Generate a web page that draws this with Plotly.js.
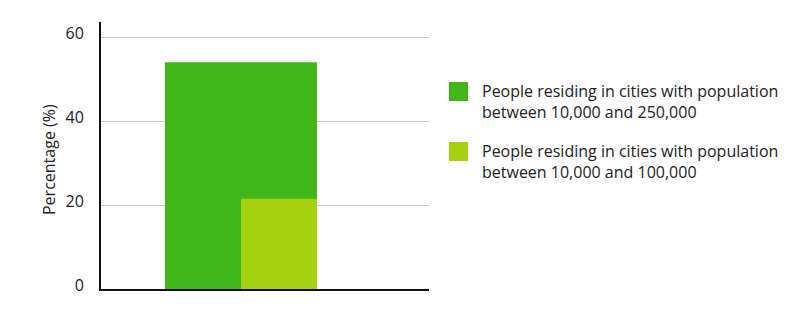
<!DOCTYPE html>
<html>
<head>
<meta charset="utf-8">
<script src="https://cdn.plot.ly/plotly-3.0.1.min.js"></script>
<style>html,body{margin:0;padding:0;background:#fff;}#chart{width:789px;height:309px;}</style>
</head>
<body>
<div id="chart"></div>
<script>
const categories = ['Cities'];
const seriesNames = [
  'People residing in cities with population<br>between 10,000 and 250,000',
  'People residing in cities with population<br>between 10,000 and 100,000'
];
const seriesValues = [[54], [21.5]];
const seriesColors = ['#41b619', '#a5d10f'];
const yTickValues = [0, 20, 40, 60];
const yTickLabels = ['0', '20', '40', '60'];
const yTitle = 'Percentage (%)';

const barOffsets = [-0.5, 0];
const barWidths = [1, 0.5];

const traces = seriesNames.map((name, i) => ({
  type: 'bar',
  x: categories,
  y: seriesValues[i],
  name: name,
  marker: {color: seriesColors[i], line: {width: 0}},
  offset: barOffsets[i],
  width: barWidths[i],
  showlegend: false,
  hoverinfo: 'skip'
}));

const fontFam = '"Open Sans", Lato, sans-serif';
const shapes = [];
const annotations = [];
seriesNames.forEach((name, i) => {
  annotations.push({
    xref: 'paper', yref: 'paper',
    x: 0, y: 0,
    xanchor: 'left', yanchor: 'top', align: 'left',
    text: name, showarrow: false,
    font: {family: fontFam, size: 16, color: '#222'}
  });
});

const layout = {
  width: 789, height: 309,
  margin: {l: 101, r: 360, t: 22, b: 20},
  paper_bgcolor: '#fff', plot_bgcolor: '#fff',
  barmode: 'overlay',
  showlegend: false,
  xaxis: {
    type: 'category',
    range: [-0.921, 1.237],
    showticklabels: false, showgrid: false, zeroline: false,
    showline: true, linecolor: '#111', linewidth: 2,
    ticks: '', fixedrange: true
  },
  yaxis: {
    range: [0, 63.6],
    tickvals: yTickValues, ticktext: yTickLabels,
    showgrid: true, gridcolor: '#c8c8c8', gridwidth: 1,
    zeroline: false, showline: true, linecolor: '#111', linewidth: 2,
    ticks: '', ticklabelstandoff: 12, ticklabelshift: -4,
    tickfont: {family: fontFam, size: 16, color: '#222'},
    fixedrange: true
  },
  annotations: annotations.concat([{
    xref: 'paper', yref: 'paper', x: 0, y: 0.5,
    text: yTitle, textangle: -90, showarrow: false,
    font: {family: fontFam, size: 16, color: '#222'}
  }]),
  shapes: shapes
};

const plotW = 789 - 101 - 360, plotH = 309 - 22 - 20;
const swatchPx = [[449, 82], [449, 142]];
swatchPx.forEach((p, i) => {
  shapes.push({
    type: 'rect', xref: 'paper', yref: 'paper',
    x0: (p[0] - 101) / plotW, x1: (p[0] + 19 - 101) / plotW,
    y0: (309 - 20 - (p[1] + 19)) / plotH, y1: (309 - 20 - p[1]) / plotH,
    fillcolor: seriesColors[i], line: {width: 0}
  });
  annotations[i].x = (480 - 101) / plotW;
  annotations[i].y = (309 - 20 - (p[1] - 4)) / plotH;
});
layout.annotations[2].x = (36 - 101) / plotW;
layout.annotations[2].y = (309 - 20 - 160) / plotH;

Plotly.newPlot('chart', traces, layout, {displayModeBar: false, staticPlot: true});
</script>
</body>
</html>
